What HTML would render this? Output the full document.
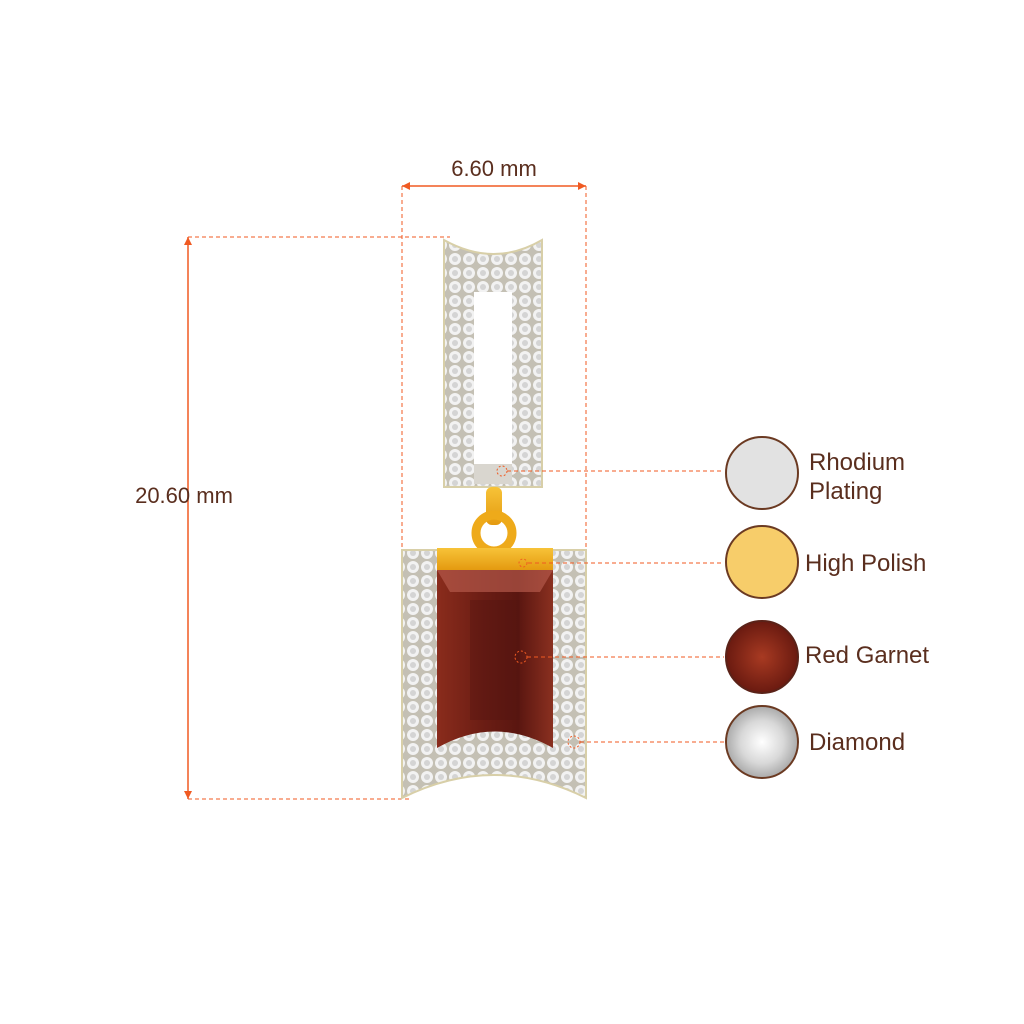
<!DOCTYPE html>
<html><head><style>
body{margin:0;background:#fff;}
svg{display:block;font-family:"Liberation Sans",sans-serif;}
</style></head><body>
<svg width="1024" height="1024" viewBox="0 0 1024 1024" xmlns="http://www.w3.org/2000/svg">
<defs>
<pattern id="dia" width="14" height="14" patternUnits="userSpaceOnUse">
<rect width="14" height="14" fill="#c4c0b4"/>
<circle cx="7" cy="7" r="6" fill="#f2f2f2"/>
<circle cx="7" cy="7" r="3" fill="#d4d4d4"/>
</pattern>
<linearGradient id="gar" x1="0" x2="1">
<stop offset="0" stop-color="#8a2c1c"/><stop offset="0.4" stop-color="#6b1d14"/><stop offset="0.7" stop-color="#5a1610"/><stop offset="1" stop-color="#8a3020"/>
</linearGradient>
<linearGradient id="gold" x1="0" y1="0" x2="0" y2="1">
<stop offset="0" stop-color="#f7c338"/><stop offset="1" stop-color="#e49a10"/>
</linearGradient>
<radialGradient id="rg"><stop offset="0" stop-color="#a83a22"/><stop offset="1" stop-color="#6a1a10"/></radialGradient>
<radialGradient id="dg"><stop offset="0" stop-color="#ffffff"/><stop offset="0.6" stop-color="#d8d8d8"/><stop offset="1" stop-color="#aaaaaa"/></radialGradient>
</defs>
<g stroke="#f05a22" stroke-width="1" fill="none">
<path d="M402 186 H586" stroke-width="1.5"/>
<path d="M188 237 V799" stroke-width="1.5"/>
<g stroke-dasharray="4 3">
<path d="M402 186 V555 M586 186 V555"/>
<path d="M188 237 H450 M188 799 H410"/>
</g>
</g>
<g fill="#f05a22">
<path d="M402 186 l8 -4 v8z M586 186 l-8 -4 v8z M188 237 l-4 8 h8z M188 799 l-4 -8 h8z"/>
</g>
<text x="494" y="176" font-size="22" fill="#5a2e1e" text-anchor="middle">6.60 mm</text>
<text x="184" y="503" font-size="22" fill="#5a2e1e" text-anchor="middle">20.60 mm</text>
<!-- upper frame -->
<path d="M444 240 Q494 268 542 240 V487 H444Z" fill="url(#dia)" stroke="#d8cfa8" stroke-width="2"/>
<rect x="474" y="292" width="38" height="172" fill="#fff"/>
<rect x="474" y="464" width="38" height="20" fill="#d9d6cf"/>
<!-- bail -->
<rect x="486" y="487" width="16" height="38" rx="6" fill="url(#gold)"/>
<circle cx="494" cy="533" r="18" fill="none" stroke="#eeaa1a" stroke-width="9"/>
<!-- lower -->
<path d="M402 550 H586 V798 Q494 752 402 798Z" fill="url(#dia)" stroke="#d8cfa8" stroke-width="2"/>
<rect x="437" y="548" width="116" height="22" fill="url(#gold)"/>
<path d="M437 570 H553 V748 Q495 715 437 748Z" fill="url(#gar)"/>
<path d="M437 570 H553 L540 592 H450Z" fill="#b4584a" opacity="0.7"/>
<path d="M470 600 H520 V720 H470Z" fill="#501410" opacity="0.35"/>
<!-- leaders on top -->
<g stroke="#f05a22" stroke-width="1" fill="none">
<g stroke-dasharray="4 3">
<path d="M507 471 H724 M528 563 H724 M527 657 H724 M580 742 H724"/>
</g>
<circle cx="502" cy="471" r="5" stroke-dasharray="2 2"/>
<circle cx="523" cy="563" r="4" stroke-dasharray="2 2"/>
<circle cx="521" cy="657" r="6" stroke-dasharray="2 2"/>
<circle cx="574" cy="742" r="6" stroke-dasharray="2 2"/>
</g>
<!-- swatches -->
<circle cx="762" cy="473" r="36" fill="#e2e2e2" stroke="#6b3a22" stroke-width="2"/>
<circle cx="762" cy="562" r="36" fill="#f7cd6a" stroke="#6b3a22" stroke-width="2"/>
<circle cx="762" cy="657" r="36" fill="url(#rg)" stroke="#5a2218" stroke-width="2"/>
<circle cx="762" cy="742" r="36" fill="url(#dg)" stroke="#6b3a22" stroke-width="2"/>
<g font-size="24" fill="#5a2e1e">
<text x="809" y="470">Rhodium</text>
<text x="809" y="499">Plating</text>
<text x="805" y="571">High Polish</text>
<text x="805" y="663">Red Garnet</text>
<text x="809" y="750">Diamond</text>
</g>
</svg>
</body></html>
